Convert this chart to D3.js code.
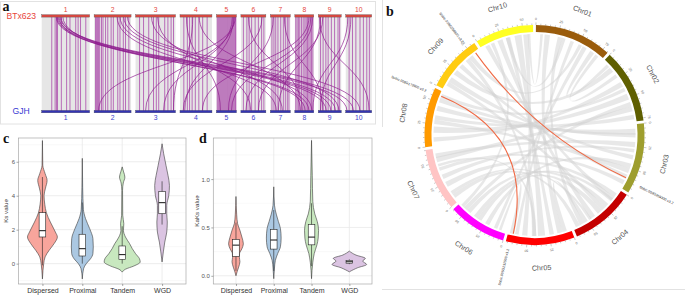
<!DOCTYPE html>
<html><head><meta charset="utf-8">
<script src="https://cdn.jsdelivr.net/npm/d3@7"></script>
<style>body{margin:0;background:#fff}svg{display:block}</style>
</head><body>
<svg id="c" width="685" height="298"></svg>
<script>
// ================= DATA =================
// Panel a: synteny between BTx623 (top) and GJH (bottom)
const synChroms = ["1","2","3","4","5","6","7","8","9","10"];
const synChromSizes = [48, 37, 40, 32, 20, 25, 20, 19, 23, 26];
const synTopName = "BTx623";
const synBottomName = "GJH";
// collinear (parallel) links: relative positions on each chromosome
const synParallel = [
  [0.21,0.28,0.31,0.33,0.41,0.52,0.59,0.71,0.76,0.81,0.92],
  [0.04,0.06,0.09,0.12,0.15,0.20,0.24,0.31,0.37,0.46,0.52,0.64,0.70,0.79,0.85,0.94],
  [0.10,0.20,0.33,0.45,0.52,0.58,0.73,0.81,0.89,0.95],
  [0.12,0.23,0.30,0.38,0.48,0.59,0.71,0.85],
  [0.04,0.09,0.14,0.19,0.24,0.29,0.34,0.39,0.44,0.49,0.54,0.59,0.64,0.69,0.74,0.79,0.84,0.89,0.94,0.97],
  [0.10,0.24,0.33,0.43,0.57,0.70,0.83,0.92],
  [0.08,0.18,0.27,0.38,0.52,0.65,0.75,0.85,0.93],
  [0.05,0.12,0.19,0.26,0.35,0.44,0.53,0.60,0.67,0.74,0.81,0.88,0.95],
  [0.10,0.21,0.33,0.43,0.57,0.71,0.86,0.93],
  [0.13,0.26,0.39,0.55,0.68,0.81,0.91]
];
// cross links: [top chr, top rel pos, bottom chr, bottom rel pos]
const synCross = [
  [1,0.30,9,0.35],[1,0.32,9,0.55],[1,0.34,10,0.05],[1,0.36,8,0.75],[1,0.38,10,0.30],
  [1,0.40,9,0.75],[1,0.44,8,0.55],[2,0.70,8,0.90],[2,0.80,9,0.90],[2,0.90,10,0.55],
  [2,0.62,7,0.30],[3,0.40,7,0.60],[3,0.55,6,0.40],[4,0.40,3,0.95],[4,0.60,8,0.30],
  [4,0.20,5,0.20],[5,0.95,2,0.12],[5,0.90,3,0.25],[5,0.85,4,0.15],[5,0.80,3,0.70],
  [6,0.85,4,0.10],[6,0.30,8,0.40],[7,0.15,5,0.60],[7,0.70,9,0.20],[8,0.85,5,0.75],
  [8,0.95,6,0.20],[8,0.75,4,0.70],[9,0.10,7,0.40],[9,0.20,6,0.70],[9,0.05,10,0.90],
  [10,0.08,8,0.95],[10,0.20,9,0.10]
];

// Panel b: circos
const circChroms = ["Chr01","Chr02","Chr03","Chr04","Chr05","Chr06","Chr07","Chr08","Chr09","Chr10"];
const circLengths = [80.9, 77.7, 74.4, 68.0, 71.9, 61.3, 65.5, 62.7, 59.4, 61.2];
const circColors = ["#9a5c0c","#5f5f00","#9e9e2e","#c40000","#ff0000","#ff00ff","#ffc4c4","#ff9a00","#ffcc11","#ffff22"];
// gray syntenic ribbons: [chrA, startA, endA, chrB, startB, endB] (Mb)
const circRibbons = [
  [10,40,48,5,30,38],[10,20,26,4,40,46],[10,50,56,5,50,56],[10,5,10,4,10,15],
  [1,10,16,5,10,16],[1,25,30,4,55,60],[1,40,44,5,60,64],[1,55,60,6,10,14],
  [1,65,70,2,5,9],[1,72,76,2,20,24],[2,30,36,8,5,10],[2,45,52,8,15,22],
  [2,60,66,7,50,56],[2,70,75,8,30,35],[3,5,12,8,40,46],[3,20,26,7,55,60],
  [3,35,40,9,10,16],[3,50,56,8,25,30],[3,65,70,7,40,44],[4,5,10,7,20,26],
  [4,20,25,6,45,50],[4,30,36,6,30,35],[4,50,55,5,5,10],[4,60,65,7,5,10],
  [5,20,25,10,30,35],[5,40,45,9,40,45],[5,65,70,6,5,8],[6,20,25,3,45,50],
  [6,50,55,2,55,60],[7,30,35,3,28,32],[7,10,14,4,45,48],[8,50,55,3,10,15],
  [9,20,26,2,10,16],[9,30,35,3,58,63],[9,45,50,1,50,54],[10,30,34,1,30,34],
  [8,55,60,2,38,42],[9,5,10,4,25,30],[10,12,16,6,55,59],[1,5,8,10,55,58],
  [6,35,40,4,12,16],[7,45,48,5,40,44]
];
// highlighted gene pairs: [chrA, posA, chrB, posB]
const circHighlight = [[9,54.5,3,61.7],[8,57.2,5,66.0]];
// gene labels: [chr, pos, name]
const circGenes = [
  [9,50.5,"Sobic.009G256900.v3.2"],
  [8,56.5,"Sobic.008G173900.v3.2"],
  [3,64.0,"Sobic.003G359300.v3.2"],
  [5,68.0,"Sobic.005G231500.v3.2"]
];

// Panels c, d: violin plots
const dupTypes = ["Dispersed","Proximal","Tandem","WGD"];
const dupColors = ["#f8a59c","#abc8e2","#c8e8bf","#dbc4e2"];
const ksTicks = [0,2,4,6];
const kakaTicks = [0.0,0.5,1.0];
// density profiles: [value, relative density]
const ksDispersed = [[7.25,0],[5.8,0.02],[5.3,0.15],[4.9,0.26],[4.45,0.17],[4.0,0.09],[3.5,0.13],[3.0,0.22],[2.45,0.44],[1.86,0.72],[1.57,0.83],[1.18,0.65],[0.78,0.37],[0.4,0.15],[0,0.07],[-0.4,0.03],[-0.9,0]];
const ksProximal = [[6.2,0],[4.5,0.02],[3.2,0.06],[2.65,0.18],[2.06,0.41],[1.47,0.59],[0.98,0.61],[0.59,0.59],[0.29,0.46],[0,0.22],[-0.3,0.07],[-0.9,0]];
const ksTandem = [[5.7,0],[5.4,0.08],[5.1,0.15],[4.75,0.06],[4.3,0.02],[2.85,0.03],[2.35,0.09],[1.96,0.07],[1.57,0.18],[1.18,0.41],[0.88,0.56],[0.59,0.74],[0.29,0.96],[0.1,1.0],[-0.14,0.65],[-0.33,0.18],[-0.5,0]];
const ksWGD = [[7.06,0],[6.47,0.09],[5.78,0.22],[5.2,0.33],[4.6,0.41],[4.0,0.37],[3.43,0.26],[2.94,0.26],[2.45,0.29],[1.86,0.26],[1.27,0.15],[0.69,0.07],[0.1,0]];
const kakaDispersed = [[0.82,0],[0.63,0.04],[0.54,0.09],[0.47,0.22],[0.40,0.33],[0.33,0.41],[0.28,0.33],[0.23,0.2],[0.19,0.19],[0.145,0.22],[0.09,0.15],[0.04,0.06],[0,0]];
const kakaProximal = [[0.92,0],[0.73,0.04],[0.63,0.15],[0.56,0.26],[0.49,0.37],[0.39,0.41],[0.30,0.37],[0.23,0.22],[0.16,0.09],[0.08,0.04],[-0.03,0]];
const kakaTandem = [[1.40,0],[1.04,0.04],[0.77,0.07],[0.64,0.18],[0.56,0.32],[0.47,0.39],[0.39,0.37],[0.32,0.3],[0.23,0.15],[0.14,0.07],[-0.03,0]];
const kakaWGD = [[0.255,0],[0.214,0.37],[0.18,0.89],[0.152,0.74],[0.117,0.96],[0.083,0.46],[0.041,0]];
// boxes: [lower whisker, q1, median, q3, upper whisker]
const ksBoxes = [[-0.1,1.57,1.94,3.0,5.1],[0,0.45,0.88,1.73,3.6],[0,0.25,0.53,1.04,2.2],[2.3,2.94,3.59,4.25,4.85]];
const kakaBoxes = [[0.05,0.2,0.317,0.376,0.55],[0.05,0.276,0.37,0.48,0.68],[0.1,0.32,0.40,0.53,0.75],[0.12,0.13,0.145,0.16,0.17]];

// ================= DRAW =================
const SANS = "'Liberation Sans', Arial, sans-serif";
const SERIF = "'Liberation Serif', 'Times New Roman', serif";
const svg = d3.select("#c");
svg.append("rect").attr("width",685).attr("height",298).attr("fill","#fff");

// ---------- Panel a ----------
(function(){
  const g = svg.append("g");
  g.append("rect").attr("x",0.5).attr("y",1.5).attr("width",375).attr("height",122.5)
    .attr("fill","none").attr("stroke","#e2e2e2").attr("stroke-width",1);
  const yTop = 16.3, yBot = 111.2, gapU = 4.5;
  const offs = []; let acc = 0;
  synChromSizes.forEach(s => { offs.push(acc); acc += s + gapU; });
  const total = acc - gapU;
  const x = d3.scaleLinear().domain([0,total]).range([41.7,371.7]);
  const pos = (c,f) => x(offs[c-1] + f*synChromSizes[c-1]);
  g.selectAll("rect.bg").data(synChroms).join("rect")
    .attr("x",(d,i)=>pos(i+1,0)).attr("width",(d,i)=>pos(i+1,1)-pos(i+1,0))
    .attr("y",yTop).attr("height",yBot-yTop).attr("fill","#e6e6e6");
  const par = [];
  synParallel.forEach((arr,i)=>arr.forEach(f=>par.push([i+1,f])));
  g.selectAll("line.par").data(par).join("line")
    .attr("x1",d=>pos(d[0],d[1])).attr("x2",d=>pos(d[0],d[1]))
    .attr("y1",yTop).attr("y2",yBot)
    .attr("stroke","#9a1d9a").attr("stroke-opacity",0.68).attr("stroke-width",0.9);
  const link = d3.linkVertical();
  g.selectAll("path.cross").data(synCross).join("path")
    .attr("d",d=>link({source:[pos(d[0],d[1]),yTop],target:[pos(d[2],d[3]),yBot]}))
    .attr("fill","none").attr("stroke","#8d1b8d").attr("stroke-opacity",0.8).attr("stroke-width",0.85);
  g.selectAll("rect.top").data(synChroms).join("rect")
    .attr("x",(d,i)=>pos(i+1,0)).attr("width",(d,i)=>pos(i+1,1)-pos(i+1,0))
    .attr("y",yTop-1.6).attr("height",2.4).attr("fill","#d9463f").attr("stroke","#6a5a5a").attr("stroke-width",0.4);
  g.selectAll("rect.bot").data(synChroms).join("rect")
    .attr("x",(d,i)=>pos(i+1,0)).attr("width",(d,i)=>pos(i+1,1)-pos(i+1,0))
    .attr("y",yBot-0.8).attr("height",2.4).attr("fill","#3434b4").attr("stroke","#444466").attr("stroke-width",0.4);
  g.selectAll("text.tn").data(synChroms).join("text")
    .attr("x",(d,i)=>pos(i+1,0.5)).attr("y",12.2).attr("text-anchor","middle")
    .attr("font-family",SANS).attr("font-size",6.8).attr("fill","#e4473e").text(d=>d);
  g.selectAll("text.bn").data(synChroms).join("text")
    .attr("x",(d,i)=>pos(i+1,0.5)).attr("y",120.3).attr("text-anchor","middle")
    .attr("font-family",SANS).attr("font-size",6.8).attr("fill","#3d3dcc").text(d=>d);
  g.append("text").attr("x",6.5).attr("y",19).attr("font-family",SANS).attr("font-size",8.6)
    .attr("fill","#e8433a").text(synTopName);
  g.append("text").attr("x",12.5).attr("y",113.8).attr("font-family",SANS).attr("font-size",8.6)
    .attr("fill","#3838d2").text(synBottomName);
  g.append("text").attr("x",2.5).attr("y",11).attr("font-family",SERIF).attr("font-weight","bold")
    .attr("font-size",14).attr("fill","#111").text("a");
})();

// ---------- Panel b ----------
(function(){
  svg.append("line").attr("x1",382.5).attr("x2",382.5).attr("y1",0).attr("y2",127).attr("stroke","#e2e2e2");
  svg.append("line").attr("x1",382).attr("x2",685).attr("y1",289.5).attr("y2",289.5).attr("stroke","#e2e2e2");
  svg.append("text").attr("x",386).attr("y",16).attr("font-family",SERIF).attr("font-weight","bold")
    .attr("font-size",14).attr("fill","#111").text("b");
  const cx = 534.5, cy = 135, rOut = 110, rIn = 103, rLink = 101;
  const g = svg.append("g").attr("transform",`translate(${cx},${cy})`);
  const gapDeg = 1.5;
  const total = d3.sum(circLengths);
  const k = (360 - gapDeg*circLengths.length)/total;
  const starts = []; let a = gapDeg/2;
  circLengths.forEach(L => { starts.push(a); a += L*k + gapDeg; });
  const ang = d3.scaleLinear().domain([0,1]).range([0,Math.PI/180]);
  const deg = (c,p) => starts[c-1] + p*k;
  const rad = (c,p) => ang(deg(c,p));
  const ribbon = d3.ribbon().radius(rLink);
  g.selectAll("path.rib").data(circRibbons).join("path")
    .attr("d",d=>ribbon({source:{startAngle:rad(d[0],d[1]),endAngle:rad(d[0],d[2])},
                         target:{startAngle:rad(d[3],d[4]),endAngle:rad(d[3],d[5])}}))
    .attr("fill","#d2d2d2").attr("fill-opacity",0.5).attr("stroke","none");
  const pt = (r,t) => [r*Math.sin(t), -r*Math.cos(t)];
  g.selectAll("path.hl").data(circHighlight).join("path")
    .attr("d",d=>{const p0=pt(rLink,rad(d[0],d[1])), p1=pt(rLink,rad(d[2],d[3]));
      const p = d3.path(); p.moveTo(p0[0],p0[1]); p.quadraticCurveTo(0,0,p1[0],p1[1]); return p.toString();})
    .attr("fill","none").attr("stroke","#f06a45").attr("stroke-width",1.1);
  const arc = d3.arc().innerRadius(rIn).outerRadius(rOut);
  g.selectAll("path.chr").data(circChroms).join("path")
    .attr("d",(d,i)=>arc({startAngle:rad(i+1,0),endAngle:rad(i+1,circLengths[i])}))
    .attr("fill",(d,i)=>circColors[i]);
  const ticks = [];
  circLengths.forEach((L,i)=>{ for(let p=0;p<=L;p+=5) ticks.push([i+1,p]); });
  g.selectAll("line.tk").data(ticks).join("line")
    .attr("x1",d=>pt(rOut,rad(d[0],d[1]))[0]).attr("y1",d=>pt(rOut,rad(d[0],d[1]))[1])
    .attr("x2",d=>pt(rOut+(d[1]%25===0?2.6:1.5),rad(d[0],d[1]))[0])
    .attr("y2",d=>pt(rOut+(d[1]%25===0?2.6:1.5),rad(d[0],d[1]))[1])
    .attr("stroke","#777").attr("stroke-width",0.4);
  g.selectAll("text.tl").data(ticks.filter(d=>d[1]%25===0)).join("text")
    .attr("transform",d=>{const q=pt(rOut+5,rad(d[0],d[1]));return `translate(${q[0]},${q[1]}) rotate(${deg(d[0],d[1])})`;})
    .attr("text-anchor","middle").attr("font-family",SANS).attr("font-size",3.4).attr("fill","#666")
    .text(d=>d[1]);
  g.selectAll("text.cl").data(circChroms).join("text")
    .attr("transform",(d,i)=>{const m=deg(i+1,circLengths[i]/2);const q=pt(133,ang(m));
      const r = (m>90 && m<270)? m-180 : m; return `translate(${q[0]},${q[1]}) rotate(${r})`;})
    .attr("text-anchor","middle").attr("dy","0.35em").attr("font-family",SANS).attr("font-size",7.2)
    .attr("fill","#555").text(d=>d);
  g.selectAll("text.gl").data(circGenes).join("text")
    .attr("transform",d=>{const m=deg(d[0],d[1]);const q=pt(117,ang(m));
      const r = m<180 ? m-90 : m+90; return `translate(${q[0]},${q[1]}) rotate(${r})`;})
    .attr("text-anchor",d=>deg(d[0],d[1])<180?"start":"end").attr("dy","0.35em")
    .attr("font-family",SANS).attr("font-size",3.5).attr("fill","#222").text(d=>d[2]);
})();

// ---------- Panels c, d ----------
function violinPanel(o){
  const g = svg.append("g");
  const x = d3.scalePoint().domain(dupTypes).range([o.x0,o.x1]).padding(0.6);
  const y = d3.scaleLinear().domain(o.domain).range([o.y1,o.y0]);
  const w = d3.scaleLinear().domain([0,1]).range([0,18]);
  g.selectAll("line.mg").data(o.minor).join("line")
    .attr("x1",o.x0).attr("x2",o.x1).attr("y1",d=>y(d)).attr("y2",d=>y(d))
    .attr("stroke","#f2f2f2").attr("stroke-width",0.5);
  g.selectAll("line.Mg").data(o.ticks).join("line")
    .attr("x1",o.x0).attr("x2",o.x1).attr("y1",d=>y(d)).attr("y2",d=>y(d))
    .attr("stroke","#e8e8e8").attr("stroke-width",0.8);
  g.selectAll("line.vg").data(dupTypes).join("line")
    .attr("x1",d=>x(d)).attr("x2",d=>x(d)).attr("y1",o.y0).attr("y2",o.y1)
    .attr("stroke","#e8e8e8").attr("stroke-width",0.8);
  const area = d3.area().curve(d3.curveMonotoneY).y(d=>y(d[0]));
  o.violins.forEach((v,i)=>{
    const c = x(dupTypes[i]);
    g.append("path").datum(v)
      .attr("d",area.x0(d=>c-w(d[1])).x1(d=>c+w(d[1])))
      .attr("fill",dupColors[i]).attr("stroke","#3a3a3a").attr("stroke-width",0.6);
  });
  o.boxes.forEach((b,i)=>{
    const c = x(dupTypes[i]), hw = o.boxW;
    g.append("line").attr("x1",c).attr("x2",c).attr("y1",y(b[0])).attr("y2",y(b[4]))
      .attr("stroke","#222").attr("stroke-width",0.6);
    g.append("rect").attr("x",c-hw).attr("width",2*hw).attr("y",y(b[3])).attr("height",y(b[1])-y(b[3]))
      .attr("fill","#fff").attr("stroke","#222").attr("stroke-width",0.6);
    g.append("line").attr("x1",c-hw).attr("x2",c+hw).attr("y1",y(b[2])).attr("y2",y(b[2]))
      .attr("stroke","#111").attr("stroke-width",1);
  });
  g.append("rect").attr("x",o.x0).attr("y",o.y0).attr("width",o.x1-o.x0).attr("height",o.y1-o.y0)
    .attr("fill","none").attr("stroke","#a8a8a8").attr("stroke-width",0.7);
  const ya = g.append("g").attr("transform",`translate(${o.x0},0)`)
    .call(d3.axisLeft(y).tickValues(o.ticks).tickSize(2).tickFormat(o.fmt));
  ya.select(".domain").remove();
  ya.selectAll("line").attr("stroke","#555").attr("stroke-width",0.5);
  ya.selectAll("text").attr("font-family",SANS).attr("font-size",6).attr("fill","#555").attr("x",-3.5);
  const xa = g.append("g").attr("transform",`translate(0,${o.y1})`)
    .call(d3.axisBottom(x).tickSize(2));
  xa.select(".domain").remove();
  xa.selectAll("line").attr("stroke","#555").attr("stroke-width",0.5);
  xa.selectAll("text").attr("font-family",SANS).attr("font-size",7).attr("fill","#333").attr("y",4.5).attr("dy","0.71em");
  g.append("text").attr("transform",`translate(${o.titleX},${(o.y0+o.y1)/2}) rotate(-90)`)
    .attr("text-anchor","middle").attr("font-family",SANS).attr("font-size",6.2).attr("fill","#333").text(o.title);
  g.append("text").attr("x",o.letterX).attr("y",143).attr("font-family",SERIF).attr("font-weight","bold")
    .attr("font-size",14).attr("fill","#111").text(o.letter);
}
violinPanel({x0:18.5,x1:186,y0:138,y1:284,domain:[-1.2,7.4],ticks:ksTicks,minor:[-1,1,3,5,7],
  fmt:d3.format("d"),violins:[ksDispersed,ksProximal,ksTandem,ksWGD],boxes:ksBoxes,boxW:3.3,
  title:"Ks value",titleX:8,letter:"c",letterX:3});
violinPanel({x0:213.3,x1:372,y0:138,y1:284,domain:[-0.085,1.425],ticks:kakaTicks,minor:[0.25,0.75,1.25],
  fmt:d3.format(".1f"),violins:[kakaDispersed,kakaProximal,kakaTandem,kakaWGD],boxes:kakaBoxes,boxW:3.3,
  title:"KaKs value",titleX:198.5,letter:"d",letterX:199});
</script>
</body></html>
